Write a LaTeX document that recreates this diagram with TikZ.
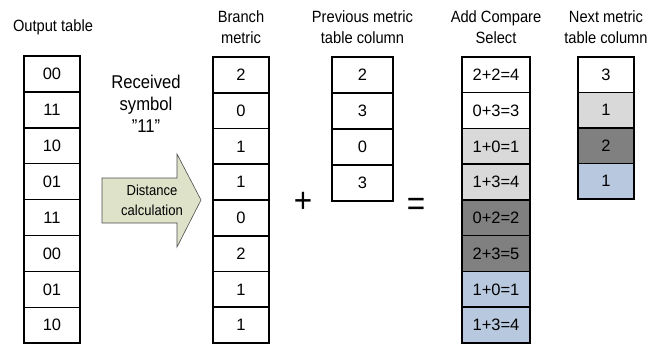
\documentclass[tikz,border=0pt]{standalone}
\usepackage{fontspec}
\setmainfont{Liberation Sans}[FakeStretch=0.9]
\newfontfamily\cellfont{Liberation Sans}
\definecolor{lgray}{HTML}{D9D9D9}
\definecolor{dgray}{HTML}{808080}
\definecolor{lblue}{HTML}{B8C8DE}
\definecolor{arrowfill}{HTML}{DDE2C9}
\begin{document}
\begin{tikzpicture}[x=1pt,y=-1pt,
  cell/.style={draw=black,line width=1.5pt,minimum height=35.9pt,inner sep=0pt,font=\cellfont\fontsize{16.5}{16.5}\selectfont},
  cw56/.style={cell,minimum width=56pt},
  cw61/.style={cell,minimum width=61pt},
  cw68/.style={cell,minimum width=68pt},
  title/.style={align=center,font=\fontsize{16.3}{21}\selectfont,inner sep=0pt},
  op/.style={font=\fontsize{35}{35}\selectfont,inner sep=0pt}]
\useasboundingbox (0,0) rectangle (660,345);
% Titles
\node[title] (tout) at (53,27) {Output table};
\node[title] (tbm) at (241,27) {Branch\\metric};
\node[title] (tpm) at (362.5,27) {Previous metric\\table column};
\node[title] (tacs) at (496,27) {Add Compare\\Select};
\node[title] (tnm) at (606,27) {Next metric\\table column};
% Output table
\foreach \t [count=\i] in {00,11,10,01,11,00,01,10}
  \node[cw56] (o\i) at (52,{56+35.9*(\i-0.5)}) {\t};
% Branch metric
\foreach \t [count=\i] in {2,0,1,1,0,2,1,1}
  \node[cw56] (b\i) at (241,{57+35.75*(\i-0.5)}) {\t};
% Previous metric
\foreach \t [count=\i] in {2,3,0,3}
  \node[cw61] (p\i) at (362.5,{57+36*(\i-0.5)}) {\t};
% ACS
\foreach \t/\c [count=\i] in {2+2=4/white,0+3=3/white,1+0=1/lgray,1+3=4/lgray,0+2=2/dgray,2+3=5/dgray,1+0=1/lblue,1+3=4/lblue}
  \node[cw68,fill=\c] (a\i) at (496,{57+35.75*(\i-0.5)}) {\t};
% Next metric
\foreach \t/\c [count=\i] in {3/white,1/lgray,2/dgray,1/lblue}
  \node[cw56,fill=\c] (n\i) at (606,{57+35.5*(\i-0.5)}) {\t};
% Received symbol
\node[align=center,font=\fontsize{18.5}{22}\selectfont,inner sep=0pt] (rec) at (146,104) {Received\\symbol\\”11”};
% Arrow
\draw[fill=arrowfill,draw=black!70,line width=0.6pt] (102,178) -- (177,178) -- (177,154) -- (201,200) -- (177,247) -- (177,223) -- (102,223) -- cycle;
\node[align=center,font=\fontsize{14.5}{20}\selectfont,inner sep=0pt] (dist) at (152,200) {Distance\\calculation};
% Operators
\node[op] (plus) at (303,202) {+};
\node[op] (eq) at (416,207) {=};
\end{tikzpicture}
\end{document}
